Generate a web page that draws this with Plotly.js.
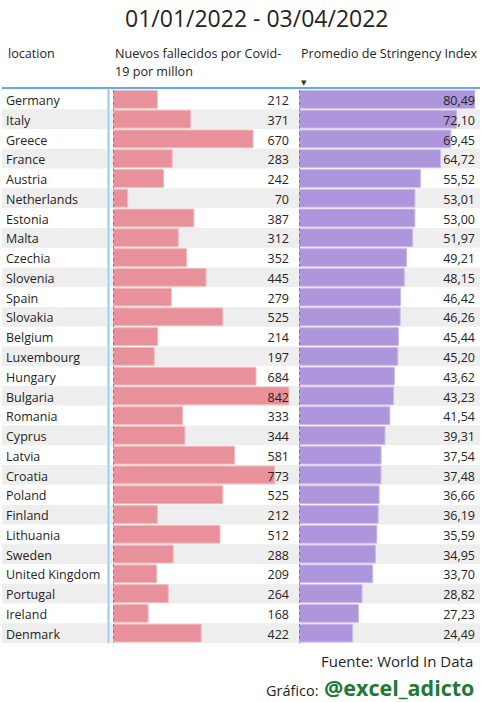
<!DOCTYPE html>
<html>
<head>
<meta charset="utf-8">
<script src="https://cdn.plot.ly/plotly-3.0.1.min.js"></script>
<style>html,body{margin:0;padding:0;background:#fff;}#chart{width:490px;height:702px;}</style>
</head>
<body>
<div id="chart"></div>
<script>
const locations = ["Germany","Italy","Greece","France","Austria","Netherlands","Estonia","Malta","Czechia","Slovenia","Spain","Slovakia","Belgium","Luxembourg","Hungary","Bulgaria","Romania","Cyprus","Latvia","Croatia","Poland","Finland","Lithuania","Sweden","United Kingdom","Portugal","Ireland","Denmark"];
const deathsPerMillion = [212,371,670,283,242,70,387,312,352,445,279,525,214,197,684,842,333,344,581,773,525,212,512,288,209,264,168,422];
const stringencyIndex = [80.49,72.10,69.45,64.72,55.52,53.01,53.00,51.97,49.21,48.15,46.42,46.26,45.44,45.20,43.62,43.23,41.54,39.31,37.54,37.48,36.66,36.19,35.59,34.95,33.70,28.82,27.23,24.49];
const titleText = "01/01/2022 - 03/04/2022";
const headerLocation = "location";
const headerDeaths = ["Nuevos fallecidos por Covid-", "19 por millon"];
const headerStringency = "Promedio de Stringency Index";

const W = 490, H = 702;
const px = v => v / W;
const py = v => 1 - v / H;
const FONT = "'Open Sans', 'Noto Sans', sans-serif";
const TXT = "#252423";

const maxD = Math.max(...deathsPerMillion);
const maxS = Math.max(...stringencyIndex);

const traces = [
  {
    type: "bar", orientation: "h", y: locations, x: deathsPerMillion,
    xaxis: "x", yaxis: "y",
    marker: {color: "#E8919A", line: {color: "#F2B9BE", width: 1}},
    hoverinfo: "skip"
  },
  {
    type: "bar", orientation: "h", y: locations, x: stringencyIndex,
    xaxis: "x2", yaxis: "y",
    marker: {color: "#AD96DC", line: {color: "#CABBEA", width: 1}},
    hoverinfo: "skip"
  },
  {
    type: "scatter", mode: "text", y: locations, x: locations.map(() => 0),
    text: locations, textposition: "middle right",
    xaxis: "x3", yaxis: "y2", cliponaxis: false,
    textfont: {family: FONT, size: 12.5, color: TXT},
    hoverinfo: "skip"
  },
  {
    type: "scatter", mode: "text", y: locations, x: locations.map(() => maxD),
    customdata: deathsPerMillion, texttemplate: "%{customdata:d}", textposition: "middle left",
    xaxis: "x4", yaxis: "y2", cliponaxis: false,
    textfont: {family: FONT, size: 12.5, color: TXT},
    hoverinfo: "skip"
  },
  {
    type: "scatter", mode: "text", y: locations, x: locations.map(() => maxS),
    customdata: stringencyIndex, texttemplate: "%{customdata:.2f}", textposition: "middle left",
    xaxis: "x5", yaxis: "y2", cliponaxis: false,
    textfont: {family: FONT, size: 12.5, color: TXT},
    hoverinfo: "skip"
  }
];

const shapes = [];
locations.forEach((loc, i) => {
  if (i % 2 === 1) {
    [[2, 107], [110, 480]].forEach(([a, b]) => {
      shapes.push({type: "rect", layer: "below", xref: "paper", yref: "y",
        x0: px(a), x1: px(b), y0: i - 0.5, y1: i + 0.5,
        fillcolor: "#EEEEEE", line: {width: 0}});
    });
  }
});
shapes.push({type: "line", xref: "paper", yref: "paper", x0: px(2), x1: px(480), y0: py(88), y1: py(88),
  line: {color: "#2E8DEF", width: 1.5}});
shapes.push({type: "line", xref: "paper", yref: "paper", x0: px(108.5), x1: px(108.5), y0: py(88.5), y1: py(643),
  line: {color: "#9BC8F4", width: 2}});
[113, 299].forEach(x => {
  shapes.push({type: "line", xref: "paper", yref: "paper", x0: px(x + 0.5), x1: px(x + 0.5), y0: py(90), y1: py(643),
    line: {color: "rgba(60,60,60,0.45)", width: 1, dash: "dot"}});
});

const annotations = [
  {text: titleText, xref: "paper", yref: "paper", x: px(257), y: py(18), xanchor: "center", yanchor: "middle",
   showarrow: false, font: {family: FONT, size: 23, color: TXT}},
  {text: headerLocation, xref: "paper", yref: "paper", x: px(6), y: py(53), xanchor: "left", yanchor: "middle",
   showarrow: false, font: {family: FONT, size: 12.6, color: TXT}},
  {text: headerDeaths[0], xref: "paper", yref: "paper", x: px(113), y: py(53), xanchor: "left", yanchor: "middle",
   showarrow: false, font: {family: FONT, size: 12.6, color: TXT}},
  {text: headerDeaths[1], xref: "paper", yref: "paper", x: px(113), y: py(72), xanchor: "left", yanchor: "middle",
   showarrow: false, font: {family: FONT, size: 12.6, color: TXT}},
  {text: headerStringency, xref: "paper", yref: "paper", x: px(299), y: py(53), xanchor: "left", yanchor: "middle",
   showarrow: false, font: {family: FONT, size: 12.6, color: TXT}},
  {text: "▼", xref: "paper", yref: "paper", x: px(303.5), y: py(82.5), xanchor: "center", yanchor: "middle",
   showarrow: false, font: {family: "DejaVu Sans", size: 7, color: "#333"}},
  {text: "Fuente: World In Data", xref: "paper", yref: "paper", x: px(475), y: py(661), xanchor: "right", yanchor: "middle",
   showarrow: false, font: {family: FONT, size: 15, color: TXT}},
  {text: "Gráfico:", xref: "paper", yref: "paper", x: px(321), y: py(690), xanchor: "right", yanchor: "middle",
   showarrow: false, font: {family: FONT, size: 14.5, color: TXT}},
  {text: "<b>@excel_adicto</b>", xref: "paper", yref: "paper", x: px(476), y: py(687), xanchor: "right", yanchor: "middle",
   showarrow: false, font: {family: FONT, size: 21.5, color: "#1F7A35"}}
];

const axisBase = {showticklabels: false, showgrid: false, zeroline: false, showline: false, ticks: "", fixedrange: true};
const yBase = Object.assign({}, axisBase, {type: "category", categoryorder: "array", categoryarray: locations,
  range: [locations.length - 0.5, -0.5]});

const layout = {
  width: W, height: H,
  margin: {l: 0, r: 0, t: 0, b: 0},
  paper_bgcolor: "#fff", plot_bgcolor: "rgba(0,0,0,0)",
  showlegend: false, bargap: 0.1, separators: ",.",
  font: {family: FONT, color: TXT},
  yaxis: Object.assign({}, yBase, {domain: [py(643), py(89.5)]}),
  yaxis2: Object.assign({}, yBase, {domain: [py(645.5), py(92)], anchor: "x3"}),
  xaxis: Object.assign({}, axisBase, {domain: [px(113), px(289)], range: [0, maxD], anchor: "y"}),
  xaxis2: Object.assign({}, axisBase, {domain: [px(299), px(475)], range: [0, maxS], anchor: "y"}),
  xaxis3: Object.assign({}, axisBase, {domain: [px(6), px(107)], range: [0, 1], anchor: "y2"}),
  xaxis4: Object.assign({}, axisBase, {domain: [px(113), px(289)], range: [0, maxD], anchor: "y2"}),
  xaxis5: Object.assign({}, axisBase, {domain: [px(299), px(475)], range: [0, maxS], anchor: "y2"}),
  shapes: shapes,
  annotations: annotations
};

Plotly.newPlot("chart", traces, layout, {displayModeBar: false, staticPlot: true});
</script>
</body>
</html>
